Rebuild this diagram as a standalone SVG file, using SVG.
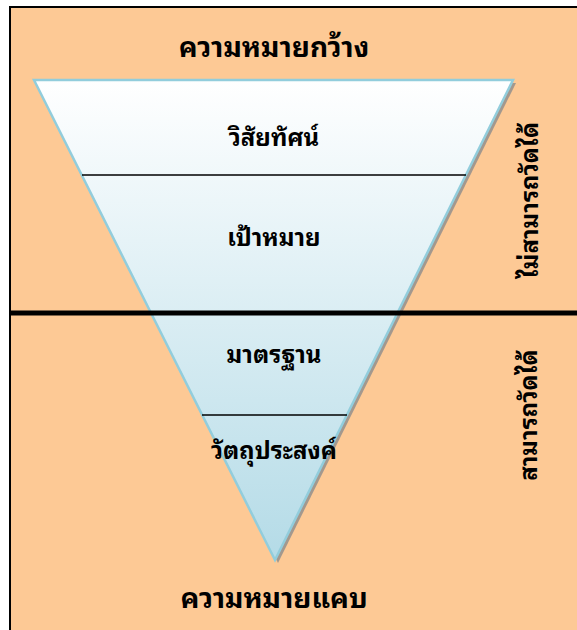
<svg xmlns="http://www.w3.org/2000/svg" width="577" height="630" viewBox="0 0 577 630">
<defs>
<linearGradient id="tri" x1="0" y1="0" x2="0" y2="1">
<stop offset="0" stop-color="#ffffff"/>
<stop offset="1" stop-color="#b4dbe7"/>
</linearGradient>
<style>
.t{font-family:"Noto Sans Thai Looped","Loma","Garuda","Tahoma","Noto Sans Thai","DejaVu Sans",sans-serif;font-weight:bold;fill:#000;text-anchor:middle}
.big{font-size:28px}
.mid{font-size:24px}
.sep{stroke:#000;stroke-width:1.5}
</style>
</defs>
<rect x="10" y="7" width="580" height="640" fill="#fdc995" stroke="#000" stroke-width="2"/>
<g id="funnel">
<polygon points="37,83 516,83 278,563" fill="#8c8c8c" opacity="0.8"/>
<polygon points="34,80 513,80 275,560" fill="url(#tri)" stroke="#92cddc" stroke-width="2.5" stroke-linejoin="miter"/>
</g>
<g id="connectors">
<line class="sep" x1="82" y1="175" x2="466" y2="175"/>
<line class="sep" x1="202" y1="415" x2="347" y2="415"/>
<line x1="10" y1="313" x2="577" y2="313" stroke="#000" stroke-width="5"/>
</g>
<g id="top-label"><text class="t big" x="274" y="57">ความหมายกว้าง</text></g>
<g id="vision"><text class="t mid" x="274" y="146">วิสัยทัศน์</text></g>
<g id="goal"><text class="t mid" x="274" y="246">เป้าหมาย</text></g>
<g id="standard"><text class="t mid" x="274" y="363">มาตรฐาน</text></g>
<g id="objective"><text class="t mid" x="274" y="459">วัตถุประสงค์</text></g>
<g id="bottom-label"><text class="t big" x="274" y="608">ความหมายแคบ</text></g>
<g id="unmeasurable"><text class="t mid" transform="translate(538,200) rotate(-90)" x="0" y="0">ไม่สามารถวัดได้</text></g>
<g id="measurable"><text class="t mid" transform="translate(537,415) rotate(-90)" x="0" y="0">สามารถวัดได้</text></g>
</svg>
